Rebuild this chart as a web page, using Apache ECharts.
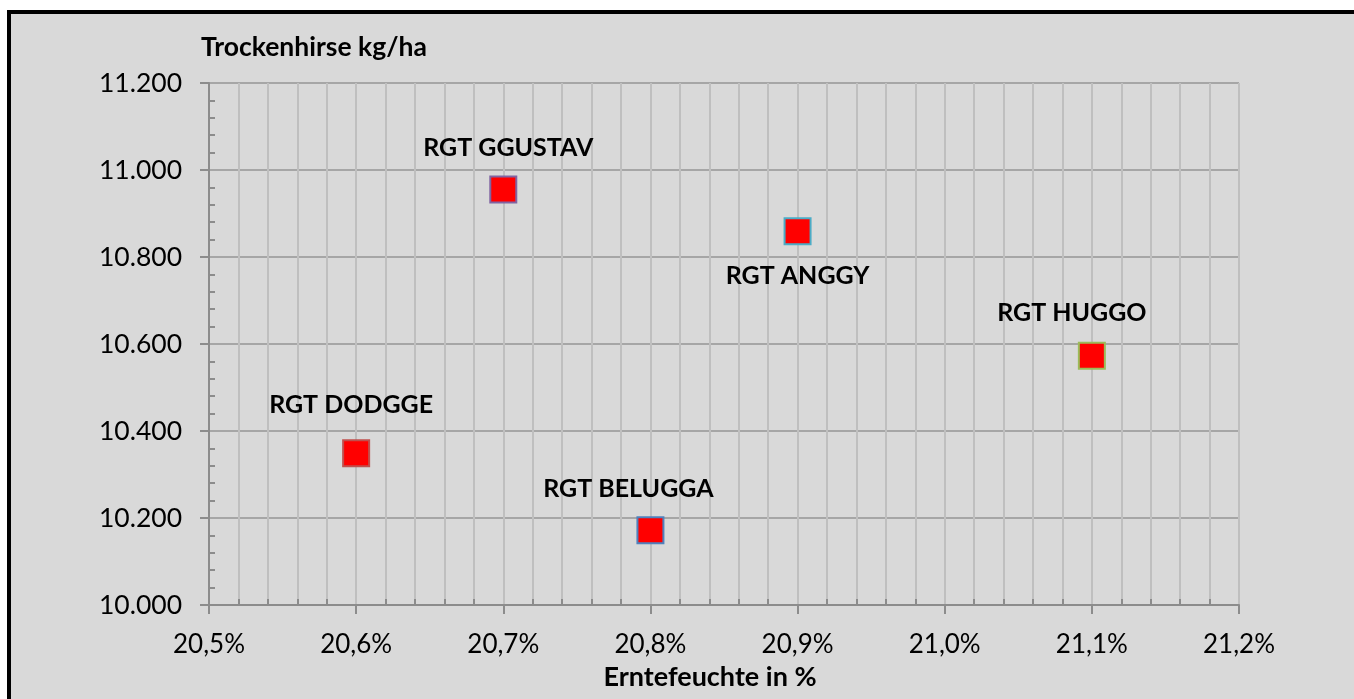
<!DOCTYPE html>
<html>
<head>
<meta charset="utf-8">
<script src="https://cdn.jsdelivr.net/npm/echarts@6/dist/echarts.min.js"></script>
<style>
  html, body { margin: 0; padding: 0; background: #fff; overflow: hidden; }
  #frame {
    position: absolute; left: 7px; top: 10px;
    width: 1360px; height: 700px;
    border: 4px solid #000; background: #d9d9d9;
  }
  #chart { position: absolute; left: 0; top: 0; width: 1354px; height: 699px; }
</style>
</head>
<body>
<div id="frame"></div>
<div id="chart"></div>
<script>
// Sorten, Erntefeuchte (%) und Ertrag (kg/ha)
const names = ['RGT DODGGE', 'RGT GGUSTAV', 'RGT BELUGGA', 'RGT ANGGY', 'RGT HUGGO'];
const moisture = [20.6, 20.7, 20.8, 20.9, 21.1];
const yieldKg = [10349, 10955, 10172, 10859, 10573];

// Achsen
const xMin = 20.5, xMax = 21.2, xStep = 0.1;
const yMin = 10000, yMax = 11200, yStep = 200;

const borderColors = ['#C0504D', '#8064A2', '#4F81BD', '#4BACC6', '#9BBB59'];
const labelOffsets = [[-5, -48], [5, -42], [-22, -41], [0, 45], [-20, -43]];

const font = 'Lato, "Open Sans", sans-serif';

const series = names.map((n, i) => ({
    name: n,
    type: 'scatter',
    symbol: 'rect',
    symbolSize: 26,
    data: [[moisture[i], yieldKg[i]]],
    itemStyle: { color: '#ff0000', borderColor: borderColors[i], borderWidth: 2, opacity: 1 },
    label: {
        show: true,
        position: 'inside',
        offset: labelOffsets[i],
        formatter: n,
        color: '#000',
        fontFamily: font,
        fontWeight: 'bold',
        fontSize: 25
    },
    emphasis: { disabled: true }
}));

const chart = echarts.init(document.getElementById('chart'));
chart.setOption({
    animation: false,
    grid: { left: 209, right: 115, top: 83, bottom: 94, containLabel: false, outerBoundsMode: 'none' },
    xAxis: {
        type: 'value',
        min: xMin, max: xMax, interval: xStep,
        name: 'Erntefeuchte in %',
        nameLocation: 'middle',
        nameGap: 59,
        nameTextStyle: { color: '#000', fontFamily: font, fontWeight: 'bold', fontSize: 27, padding: [0, 28, 0, 0] },
        axisLine: { show: true, onZero: false, lineStyle: { color: '#8c8c8c', width: 2 } },
        axisTick: { show: true, length: 9, lineStyle: { color: '#8c8c8c', width: 2 } },
        minorTick: { show: true, splitNumber: 5, length: -6, lineStyle: { color: '#8c8c8c', width: 2 } },
        axisLabel: {
            color: '#000', fontFamily: font, fontSize: 26, margin: 27,
            formatter: v => v.toFixed(1).replace('.', ',') + '%'
        },
        splitLine: { show: true, lineStyle: { color: '#bfbfbf', width: 2 } },
        minorSplitLine: { show: true, lineStyle: { color: '#bfbfbf', width: 2 } }
    },
    yAxis: {
        type: 'value',
        min: yMin, max: yMax, interval: yStep,
        name: 'Trockenhirse kg/ha',
        nameLocation: 'end',
        nameGap: 36,
        nameTextStyle: { color: '#000', fontFamily: font, fontWeight: 'bold', fontSize: 26.5, align: 'left', verticalAlign: 'middle', padding: [0, 0, 0, -8] },
        axisLine: { show: true, onZero: false, lineStyle: { color: '#8c8c8c', width: 2 } },
        axisTick: { show: true, length: 9, lineStyle: { color: '#8c8c8c', width: 2 } },
        minorTick: { show: true, splitNumber: 5, length: -6, lineStyle: { color: '#8c8c8c', width: 2 } },
        axisLabel: {
            color: '#000', fontFamily: font, fontSize: 26.5, margin: 27,
            formatter: v => (v / 1000).toFixed(3)
        },
        splitLine: { show: true, lineStyle: { color: '#a6a6a6', width: 2 } }
    },
    series: series
});
</script>
</body>
</html>
